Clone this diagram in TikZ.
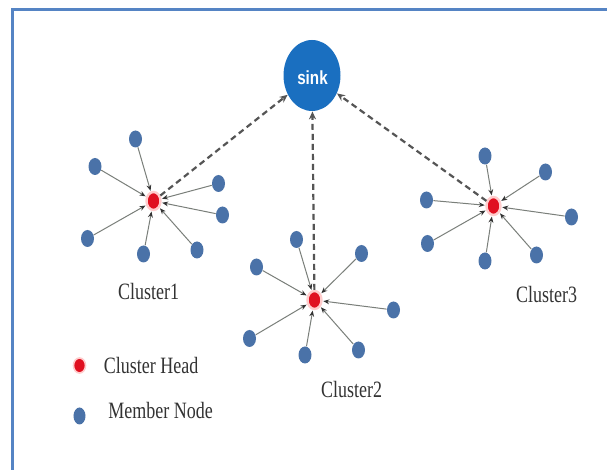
\documentclass[tikz,border=0pt]{standalone}
\usepackage{fontspec}
\usepackage{graphicx}
\setmainfont{Liberation Serif}
\newfontfamily\sinkfont{Liberation Sans}
\usetikzlibrary{shapes.geometric,arrows.meta}
\definecolor{memblue}{HTML}{4A72A8}
\definecolor{headred}{HTML}{E01020}
\definecolor{sinkblue}{HTML}{1A6FC0}
\definecolor{framecol}{HTML}{5584C4}
\definecolor{linkgray}{HTML}{7A7F7A}
\definecolor{dashgray}{HTML}{555555}
\definecolor{txtgray}{HTML}{333333}
\tikzset{
  member/.style={ellipse, fill=memblue, minimum width=6.5pt, minimum height=8.5pt, inner sep=0pt},
  head/.style={ellipse, fill=headred, minimum width=7pt, minimum height=9pt, inner sep=0pt,
     draw=red!20, line width=1.2pt},
  sinknode/.style={ellipse, fill=sinkblue, minimum width=28.5pt, minimum height=35.5pt, inner sep=0pt},
  link/.style={draw=linkgray, line width=0.5pt, -{Stealth[length=3pt,width=2.4pt,color=black!80]}, shorten >=0.3pt},
  uplink/.style={draw=dashgray, line width=1.1pt, dash pattern=on 3pt off 2pt, -{Stealth[length=4pt,width=3.5pt]}},
  lbl/.style={text=txtgray, font=\fontsize{9}{10}\selectfont, inner sep=0pt},
}
\newcommand{\tallt}[1]{\scalebox{1}[1.3]{#1}}
\begin{document}
\begin{tikzpicture}[x=0.5pt,y=-0.5pt]
\useasboundingbox (0,0) rectangle (607,470);
\fill[white] (0,0) rectangle (607,470);
% frame
\coordinate (fb) at (12.5,470);
\coordinate (fc) at (12.5,9.5);
\coordinate (fr) at (607,9.5);
\draw[framecol, line width=1.1pt] (fb) -- (fc) -- (fr);

% sink
\node[sinknode] (sink) at (312,75.5) {};
\node[text=white, font=\sinkfont\bfseries\fontsize{7.6}{9}\selectfont, inner sep=0pt] (sinklbl) at (312.5,78) {\scalebox{1}[1.25]{sink}};

% cluster 1
\node[head] (h1) at (153.5,201) {};
\foreach \n/\x/\y in {a/135.5/139, b/95/166.5, c/218.5/183.5, d/222.5/215, e/87.5/238.5, f/143.5/254, g/197/250}{
  \node[member] (m1\n) at (\x,\y) {};
  \draw[link] (m1\n) -- (h1);
}
\node[lbl] (c1lbl) at (148.5,291.5) {\tallt{Cluster1}};

% cluster 2
\node[head] (h2) at (314.5,300) {};
\foreach \n/\x/\y in {a/296.5/239.5, b/256.5/267, c/361.5/253.5, d/393.5/310, e/249.5/338.5, f/305/355, g/358.5/350}{
  \node[member] (m2\n) at (\x,\y) {};
  \draw[link] (m2\n) -- (h2);
}
\node[lbl] (c2lbl) at (351.5,390) {\tallt{Cluster2}};

% cluster 3
\node[head] (h3) at (493.5,206) {};
\foreach \n/\x/\y in {a/485/156, b/545.5/172, c/426.5/200, d/571.5/217, e/427.5/243.5, f/485/261, g/536.5/255}{
  \node[member] (m3\n) at (\x,\y) {};
  \draw[link] (m3\n) -- (h3);
}
\node[lbl] (c3lbl) at (546.5,294) {\tallt{Cluster3}};

% uplinks
\draw[uplink] (h1) -- (sink);
\draw[uplink] (h2) -- (sink);
\draw[uplink] (h3) -- (sink);

% legend
\node[ellipse, fill=headred, minimum width=6pt, minimum height=7.5pt, inner sep=0pt, draw=red!20, line width=0.8pt] (lgh) at (79.5,365.5) {};
\node[lbl, anchor=west] (lghtxt) at (103.5,365) {\tallt{Cluster Head}};
\node[ellipse, fill=memblue, minimum width=6pt, minimum height=8.5pt, inner sep=0pt] (lgm) at (79.5,416) {};
\node[lbl, anchor=west] (lgmtxt) at (108,410) {\tallt{Member Node}};
\end{tikzpicture}
\end{document}
